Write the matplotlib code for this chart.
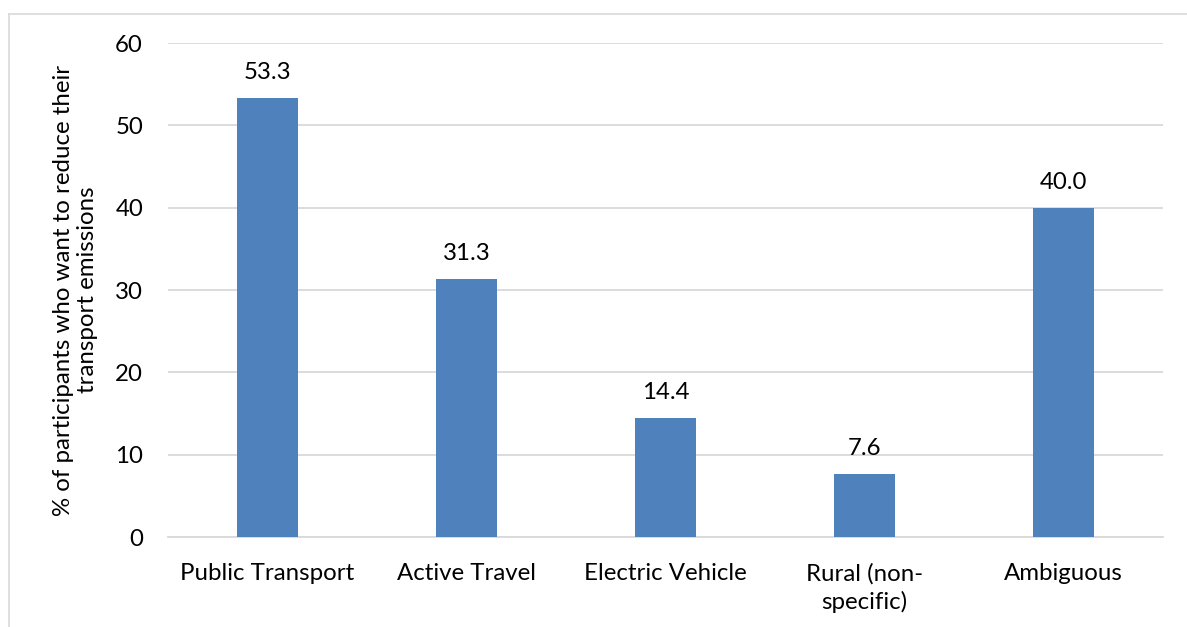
import matplotlib.pyplot as plt
from matplotlib.lines import Line2D

categories = ['Public Transport', 'Active Travel', 'Electric Vehicle', 'Rural (non-\nspecific)', 'Ambiguous']
values = [53.3, 31.3, 14.4, 7.6, 40.0]
y_ticks = [0, 10, 20, 30, 40, 50, 60]
y_label = '% of participants who want to reduce their\ntransport emissions'

BAR_COLOR = '#4F81BD'
GRID_COLOR = '#D9D9D9'
FONT = 'Lato'
FS = 17.3

fig = plt.figure(figsize=(11.87, 6.27), dpi=100)
ax = fig.add_axes([168 / 1187, 1 - 537 / 627, (1163 - 168) / 1187, (537 - 43) / 627])

x = list(range(len(categories)))
ax.bar(x, values, width=0.31, color=BAR_COLOR, zorder=3)
for xi, v in zip(x, values):
    ax.annotate(f'{v:.1f}', (xi, v), xytext=(0, 15), textcoords='offset pixels',
                ha='center', va='bottom', fontsize=FS, family=FONT, color='#000000')

ax.set_xlim(-0.5, len(categories) - 0.5)
ax.set_ylim(0, 60)
ax.set_yticks(y_ticks)
ax.set_xticks(x)
ax.set_xticklabels(categories, fontsize=FS, family=FONT, linespacing=1.35)
ax.set_yticklabels([str(t) for t in y_ticks], fontsize=FS, family=FONT)
ax.tick_params(axis='both', length=0)
ax.tick_params(axis='y', pad=18)
ax.tick_params(axis='x', pad=19)
ax.yaxis.grid(True, color=GRID_COLOR, linewidth=1.3, zorder=0)
for s in ['top', 'right', 'left']:
    ax.spines[s].set_visible(False)
ax.spines['bottom'].set_color(GRID_COLOR)
ax.spines['bottom'].set_linewidth(1.3)
ax.set_ylabel(y_label, fontsize=FS, family=FONT, linespacing=1.2, labelpad=12)

# outer chart border (cut off at right and bottom)
fig.add_artist(Line2D([9 / 1187, 9 / 1187], [0, 1 - 14 / 627], transform=fig.transFigure,
                      color=GRID_COLOR, linewidth=1.2))
fig.add_artist(Line2D([9 / 1187, 1], [1 - 14 / 627, 1 - 14 / 627], transform=fig.transFigure,
                      color=GRID_COLOR, linewidth=1.2))

fig.savefig('out.png', dpi=100)
